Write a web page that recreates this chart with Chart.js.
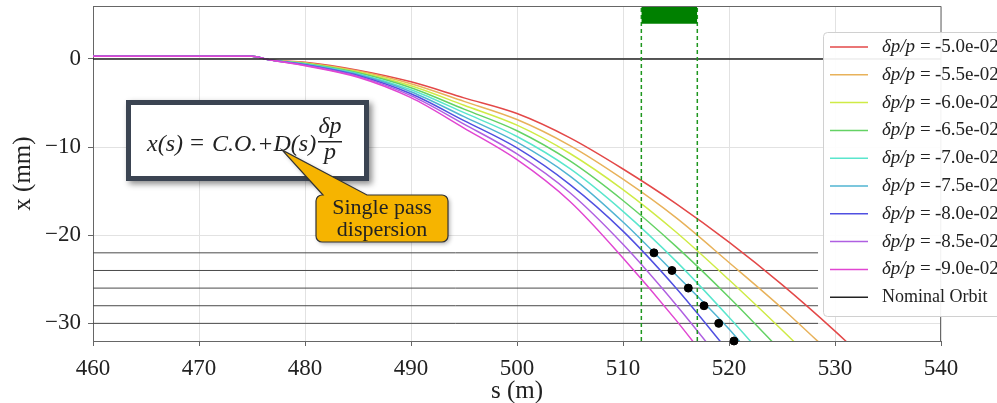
<!DOCTYPE html>
<html lang="en">
<head>
<meta charset="UTF-8">
<title>Single pass dispersion</title>
<script src="https://cdn.jsdelivr.net/npm/chart.js"></script>
<style>
  html, body { margin: 0; padding: 0; background: #fff; }
  #wrap { width: 997px; height: 403px; }
</style>
</head>
<body>
<div id="wrap"><canvas id="grafico" width="997" height="403"></canvas></div>

<script>
  // s positions (m) where the orbits were sampled
  const sPos = [460, 475, 476.6, 480, 485, 490, 495, 500, 505, 510, 515, 520, 525, 530, 535];

  // momentum offsets (x 1e-2) and the matching orbit x (mm)
  const deltas = [-5.0, -5.5, -6.0, -6.5, -7.0, -7.5, -8.0, -8.5, -9.0];
  const orbit50 = [0.3, 0.3, -0.1, -0.38, -1.28, -2.6, -4.42, -6.2, -8.96, -12.49, -16.41, -20.79, -25.61, -30.88, -36.56];
  const orbit55 = [0.3, 0.3, -0.1, -0.43, -1.38, -2.82, -4.82, -6.88, -9.84, -13.65, -18.01, -23.09, -28.28, -33.86, null];
  const orbit60 = [0.3, 0.3, -0.1, -0.48, -1.48, -3.05, -5.26, -7.52, -10.73, -14.83, -19.64, -25.06, -30.75, -36.65, null];
  const orbit65 = [0.3, 0.3, -0.1, -0.53, -1.58, -3.27, -5.7, -8.15, -11.57, -16.06, -21.27, -27.04, -33.23, null, null];
  const orbit70 = [0.3, 0.3, -0.1, -0.58, -1.68, -3.5, -6.1, -8.8, -12.45, -17.29, -22.94, -29.31, -36.09, null, null];
  const orbit75 = [0.3, 0.3, -0.1, -0.62, -1.78, -3.72, -6.55, -9.45, -13.29, -18.5, -24.49, -30.65, -37.9, null, null];
  const orbit80 = [0.3, 0.3, -0.1, -0.67, -1.88, -3.95, -7.0, -10.1, -14.26, -19.54, -25.99, -33.26, null, null, null];
  const orbit85 = [0.3, 0.3, -0.1, -0.72, -1.98, -4.17, -7.4, -10.78, -15.18, -21.03, -27.88, -35.35, null, null, null];
  const orbit90 = [0.3, 0.3, -0.1, -0.77, -2.08, -4.4, -7.85, -11.43, -16.17, -22.58, -29.63, -37.33, null, null, null];
  const orbits = [orbit50, orbit55, orbit60, orbit65, orbit70, orbit75, orbit80, orbit85, orbit90];
  const colors = ['#e34848', '#e8b25a', '#cfeb46', '#64d264', '#5ae6cd', '#50b4d2', '#5050e1', '#af5fe1', '#e146d2'];

  // aperture levels and the points where the -7.5e-02 orbit crosses them
  const levels = [-22, -24, -26, -28, -30];
  const levelEnd = 528.4;
  const hitS = [512.92, 514.62, 516.16, 517.64, 519.03, 520.47];
  const hitX = [-22, -24, -26, -28, -30, -32];

  // element at 511.7-517.0 m
  const elemS = [511.73, 517.01];
  const elemX = [4, 6];

  const xTicks = [460, 470, 480, 490, 500, 510, 520, 530, 540];
  const yTicks = [-30, -20, -10, 0];

  const legendLabels = deltas.map(d => '-' + Math.abs(d).toFixed(1) + 'e-02');

  const serif = '"Liberation Serif", "DejaVu Serif", serif';

  const datasets = [];
  orbits.forEach((vals, i) => {
    datasets.push({
      data: sPos.map((s, j) => ({ x: s, y: vals[j] })),
      borderColor: colors[i],
      borderWidth: 1.5,
      pointRadius: 0,
      cubicInterpolationMode: 'monotone',
      order: 20 - i
    });
  });
  // nominal orbit
  datasets.push({
    data: [{ x: 460, y: 0 }, { x: 540, y: 0 }],
    borderColor: '#222', borderWidth: 1.5, pointRadius: 0, order: 11
  });
  levels.forEach(v => {
    datasets.push({
      data: [{ x: 460, y: v }, { x: levelEnd, y: v }],
      borderColor: '#4a4a4a', borderWidth: 1, pointRadius: 0, order: 30
    });
  });
  elemS.forEach(s => {
    datasets.push({
      data: [{ x: s, y: -32 }, { x: s, y: 6 }],
      borderColor: '#1e961e', borderWidth: 1.5, borderDash: [4, 3], pointRadius: 0, order: 5
    });
  });
  datasets.push({
    data: elemS.map(s => ({ x: s, y: elemX[1] })),
    borderColor: '#008000', borderWidth: 0, backgroundColor: '#008000',
    fill: { value: elemX[0] }, pointRadius: 0, order: 4
  });
  datasets.push({
    type: 'scatter',
    data: hitS.map((s, i) => ({ x: s, y: hitX[i] })),
    backgroundColor: '#000', borderColor: '#000', pointRadius: 4, clip: false, order: 0
  });

  function roundRect(ctx, x, y, w, h, r) {
    ctx.beginPath();
    ctx.moveTo(x + r, y);
    ctx.lineTo(x + w - r, y);
    ctx.arcTo(x + w, y, x + w, y + r, r);
    ctx.lineTo(x + w, y + h - r);
    ctx.arcTo(x + w, y + h, x + w - r, y + h, r);
    ctx.lineTo(x + r, y + h);
    ctx.arcTo(x, y + h, x, y + h - r, r);
    ctx.lineTo(x, y + r);
    ctx.arcTo(x, y, x + r, y, r);
    ctx.closePath();
  }

  // top and right sides of the frame
  const framePlugin = {
    id: 'frame',
    afterDatasetsDraw(chart) {
      const { ctx, chartArea: a } = chart;
      ctx.save();
      ctx.strokeStyle = '#666';
      ctx.lineWidth = 1;
      ctx.beginPath();
      ctx.moveTo(a.left, a.top + 0.5);
      ctx.lineTo(a.right, a.top + 0.5);
      ctx.lineTo(a.right - 0.5, a.bottom);
      ctx.stroke();
      ctx.restore();
    }
  };

  // formula box and the callout
  const notesPlugin = {
    id: 'notes',
    afterDraw(chart) {
      const ctx = chart.ctx;
      ctx.save();
      ctx.shadowColor = 'rgba(0,0,0,0.45)';
      ctx.shadowBlur = 6;
      ctx.shadowOffsetX = 3;
      ctx.shadowOffsetY = 3;
      ctx.fillStyle = '#fff';
      ctx.fillRect(126, 100, 243, 81);
      ctx.shadowColor = 'transparent';
      ctx.strokeStyle = '#3b4452';
      ctx.lineWidth = 5;
      ctx.strokeRect(128.5, 102.5, 238, 76);

      ctx.fillStyle = '#222';
      ctx.textBaseline = 'alphabetic';
      ctx.textAlign = 'left';
      ctx.font = 'italic 24px ' + serif;
      ctx.fillText('x(s)', 147, 151);
      ctx.font = '25px ' + serif;
      ctx.fillText('=', 190, 151);
      ctx.font = 'italic 24px ' + serif;
      ctx.fillText('C.O.+D(s)', 212, 151);
      ctx.textAlign = 'center';
      ctx.fillText('\u03b4p', 330, 133);
      ctx.fillText('p', 330, 159);
      ctx.fillRect(318, 141, 24, 1.5);

      // callout with its pointer
      const x0 = 316, y0 = 195, x1 = 448, y1 = 242, r = 6;
      ctx.beginPath();
      ctx.moveTo(x0 + r, y0);
      ctx.lineTo(323, y0);
      ctx.lineTo(282, 150);
      ctx.lineTo(367, y0);
      ctx.lineTo(x1 - r, y0);
      ctx.arcTo(x1, y0, x1, y0 + r, r);
      ctx.lineTo(x1, y1 - r);
      ctx.arcTo(x1, y1, x1 - r, y1, r);
      ctx.lineTo(x0 + r, y1);
      ctx.arcTo(x0, y1, x0, y1 - r, r);
      ctx.lineTo(x0, y0 + r);
      ctx.arcTo(x0, y0, x0 + r, y0, r);
      ctx.closePath();
      ctx.shadowColor = 'rgba(0,0,0,0.3)';
      ctx.shadowBlur = 4;
      ctx.shadowOffsetX = 2;
      ctx.shadowOffsetY = 2;
      ctx.fillStyle = '#f6b400';
      ctx.fill();
      ctx.shadowColor = 'transparent';
      ctx.strokeStyle = '#333';
      ctx.lineWidth = 1.2;
      ctx.stroke();

      ctx.fillStyle = '#222';
      ctx.font = '22px ' + serif;
      ctx.textAlign = 'center';
      ctx.textBaseline = 'middle';
      ctx.fillText('Single pass', 382, 208);
      ctx.fillText('dispersion', 382, 230);
      ctx.restore();
    }
  };

  const legendPlugin = {
    id: 'orbitLegend',
    afterDraw(chart) {
      const ctx = chart.ctx;
      ctx.save();
      roundRect(ctx, 823.5, 32.5, 220, 284, 4);
      ctx.fillStyle = 'rgba(255,255,255,0.92)';
      ctx.fill();
      ctx.strokeStyle = '#d0d0d0';
      ctx.lineWidth = 1;
      ctx.stroke();

      ctx.textBaseline = 'middle';
      ctx.textAlign = 'left';
      ctx.fillStyle = '#222';
      const rowH = 27.8;
      legendLabels.forEach((lab, i) => {
        const y = 47 + i * rowH;
        ctx.strokeStyle = colors[i];
        ctx.lineWidth = 1.5;
        ctx.beginPath();
        ctx.moveTo(830, y);
        ctx.lineTo(868, y);
        ctx.stroke();
        ctx.font = 'italic 19px ' + serif;
        ctx.fillText('\u03b4p/p', 882, y);
        ctx.font = '19px ' + serif;
        ctx.fillText('=', 920, y);
        ctx.fillText(lab, 935, y);
      });
      const yn = 47 + 9 * rowH;
      ctx.strokeStyle = '#222';
      ctx.lineWidth = 1.5;
      ctx.beginPath();
      ctx.moveTo(830, yn);
      ctx.lineTo(868, yn);
      ctx.stroke();
      ctx.font = '18px ' + serif;
      ctx.fillText('Nominal Orbit', 882, yn);
      ctx.restore();
    }
  };

  const minus = v => (v < 0 ? '\u2212' + Math.abs(v) : String(v));

  new Chart(document.getElementById('grafico'), {
    type: 'line',
    data: { datasets: datasets },
    options: {
      responsive: false,
      animation: false,
      devicePixelRatio: 1,
      layout: { padding: { top: 6, right: 56, left: 0, bottom: 0 } },
      plugins: { legend: { display: false }, tooltip: { enabled: false } },
      scales: {
        x: {
          type: 'linear', min: 460, max: 540,
          afterBuildTicks: s => { s.ticks = xTicks.map(v => ({ value: v })); },
          afterFit: s => { s.height = 62; s.paddingLeft = 0; s.paddingRight = 0; },
          ticks: { font: { family: serif, size: 23 }, color: '#222', padding: 9, maxRotation: 0 },
          grid: { color: '#e2e2e2', tickColor: '#666', tickLength: 5 },
          border: { color: '#666' },
          title: { display: true, text: 's (m)', font: { family: serif, size: 25 }, color: '#222', padding: { top: 0, bottom: -3 } }
        },
        y: {
          type: 'linear', min: -32, max: 6,
          afterBuildTicks: s => { s.ticks = yTicks.map(v => ({ value: v })); },
          afterFit: s => { s.width = 93; s.paddingTop = 0; s.paddingBottom = 0; },
          ticks: { font: { family: serif, size: 23 }, color: '#222', padding: 7, callback: v => minus(v) },
          grid: { color: '#e2e2e2', tickColor: '#666', tickLength: 5 },
          border: { color: '#666' },
          title: { display: true, text: 'x (mm)', font: { family: serif, size: 25 }, color: '#222', padding: { top: 8, bottom: 0 } }
        }
      }
    },
    plugins: [framePlugin, notesPlugin, legendPlugin]
  });
</script>
</body>
</html>
